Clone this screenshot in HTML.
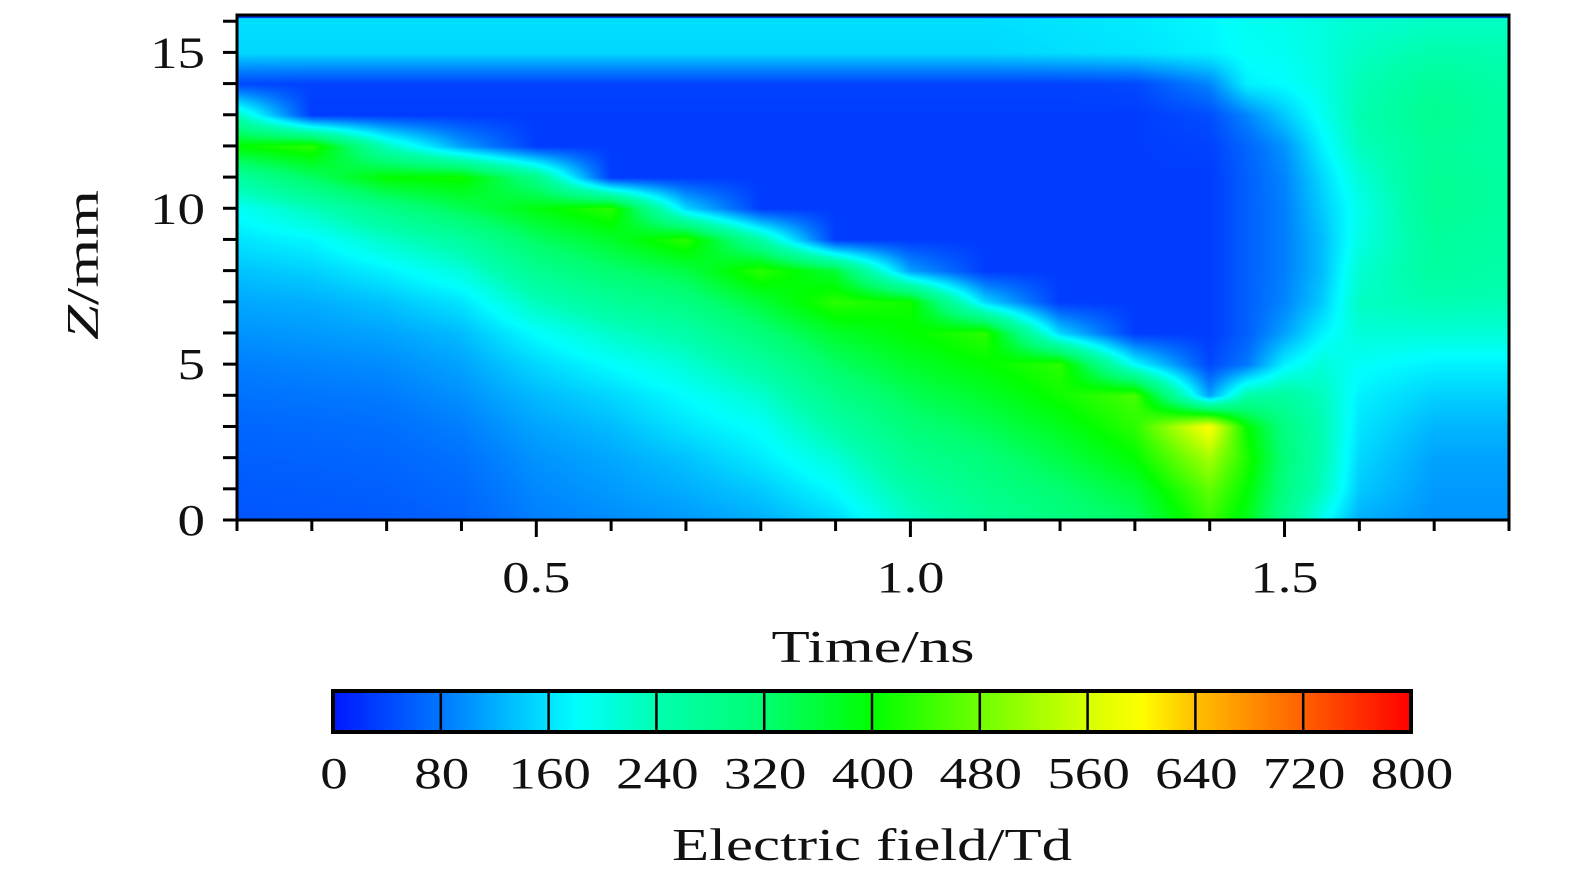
<!DOCTYPE html>
<html><head><meta charset="utf-8">
<style>
html,body{margin:0;padding:0;background:#fff;}
#root{position:relative;width:1575px;height:886px;overflow:hidden;font-family:"Liberation Serif",serif;}
svg text{font-family:"Liberation Serif",serif;fill:#111;}
</style></head>
<body>
<div id="root">
<canvas id="heat" width="1272" height="505" style="position:absolute;left:237px;top:15px;"></canvas>
<canvas id="cbar" width="1078" height="41" style="position:absolute;left:333px;top:691px;"></canvas>
<svg id="ov" width="1575" height="886" style="position:absolute;left:0;top:0;"></svg>
</div>
<script>
// ---- data ----
const times = [0.1,0.2,0.3,0.4,0.5,0.6,0.7,0.8,0.9,1.0,1.1,1.2,1.3,1.4,1.45,1.5,1.55,1.6,1.7,1.8];
const zLevels = [0,1,2,3,4,5,6,7,8,9,10,11,12,13,14,15,16];
// field values (Td) at each time, for z = 0..16
const fieldT010 = [50,55,60,65,75,85,100,115,135,160,185,260,400,230,40,150,155];
const fieldT020 = [52,57,62,68,78,90,105,120,145,175,230,330,430,30,35,150,155];
const fieldT030 = [55,60,65,72,82,95,112,135,170,220,290,400,230,30,35,150,155];
const fieldT040 = [62,68,75,85,98,112,130,160,205,260,340,410,110,30,35,150,155];
const fieldT050 = [85,92,100,112,128,150,180,230,280,330,390,290,30,30,35,150,155];
const fieldT060 = [95,105,115,130,150,180,220,270,320,370,430,30,30,30,35,150,155];
const fieldT070 = [105,120,135,160,180,210,250,300,350,430,150,30,30,30,35,150,155];
const fieldT080 = [120,140,165,185,215,260,310,360,430,252,30,30,30,30,35,150,155];
const fieldT090 = [150,180,210,250,290,330,370,430,363,30,30,30,30,30,35,150,155];
const fieldT100 = [220,250,280,310,340,370,400,410,110,30,30,30,30,30,35,150,155];
const fieldT110 = [270,290,310,340,370,400,430,150,30,30,30,30,30,30,35,150,155];
const fieldT120 = [300,320,350,380,410,430,150,30,30,30,30,30,30,30,35,155,160];
const fieldT130 = [330,360,400,430,450,180,30,30,30,30,30,30,30,30,40,160,165];
const fieldT140 = [440,470,520,600,110,40,30,30,30,30,30,30,35,45,90,170,175];
const fieldT145 = [380,400,420,400,250,80,60,60,60,60,60,60,65,90,170,185,190];
const fieldT150 = [280,300,310,300,260,170,110,90,85,85,85,90,100,140,180,190,195];
const fieldT155 = [190,230,240,240,230,210,170,140,130,130,140,150,170,190,200,205,205];
const fieldT160 = [120,140,150,160,170,185,210,225,215,200,195,210,230,240,235,225,215];
const fieldT170 = [100,105,112,125,145,170,210,240,260,265,275,275,270,280,270,245,225];
const fieldT180 = [100,105,112,125,145,170,210,235,250,255,260,260,255,255,250,240,225];
const fieldColumns = [fieldT010,fieldT020,fieldT030,fieldT040,fieldT050,fieldT060,fieldT070,fieldT080,fieldT090,fieldT100,fieldT110,fieldT120,fieldT130,fieldT140,fieldT145,fieldT150,fieldT155,fieldT160,fieldT170,fieldT180];
const xTickLabels = ["0.5","1.0","1.5"];
const xTickValues = [0.5,1.0,1.5];
const yTickValues = [0,5,10,15];
const cbarTickValues = [0,80,160,240,320,400,480,560,640,720,800];

// ---- scales ----
const X0=237,X1=1509,Y0=520,YTOP=15;
const tMin=0.1,tMax=1.8,zMin=0,zMax=16.2;
const xs=t=>X0+(t-tMin)/(tMax-tMin)*(X1-X0);
const ys=z=>Y0-(z-zMin)/(zMax-zMin)*(Y0-YTOP);
const stops=[[0,[0,24,255]],[80,[0,120,255]],[150,[0,216,255]],[180,[0,255,255]],[240,[0,255,176]],[320,[0,255,112]],[400,[0,255,0]],[480,[112,255,0]],[560,[216,255,0]],[600,[255,255,0]],[640,[255,192,0]],[720,[255,96,0]],[800,[255,0,0]]];
function cmap(v){
  if(v<=0)return stops[0][1];
  for(let i=1;i<stops.length;i++){if(v<=stops[i][0]){const a=stops[i-1],b=stops[i],f=(v-a[0])/(b[0]-a[0]);return [0,1,2].map(k=>a[1][k]+(b[1][k]-a[1][k])*f);}}
  return stops[stops.length-1][1];
}
function idx(arr,v){let i=0;while(i<arr.length-2&&v>arr[i+1])i++;const f=Math.max(0,Math.min(1,(v-arr[i])/(arr[i+1]-arr[i])));return [i,f];}
function field(t,z){
  const [i,fx]=idx(times,t),[j,fy]=idx(zLevels,z);
  const a=fieldColumns[i],b=fieldColumns[i+1];
  const v0=a[j]*(1-fy)+a[j+1]*fy,v1=b[j]*(1-fy)+b[j+1]*fy;
  return v0*(1-fx)+v1*fx;
}
const hc=document.getElementById('heat'),hx=hc.getContext('2d');
const W=hc.width,H=hc.height,img=hx.createImageData(W,H);
for(let py=0;py<H;py++){
  const z=zMin+(Y0-(py+YTOP))/(Y0-YTOP)*(zMax-zMin);
  for(let px=0;px<W;px++){
    const t=tMin+(px+0.5)/(X1-X0)*(tMax-tMin);
    const c=cmap(field(t,z));const o=(py*W+px)*4;
    img.data[o]=c[0];img.data[o+1]=c[1];img.data[o+2]=c[2];img.data[o+3]=255;
  }
}
hx.putImageData(img,0,0);
hx.fillStyle='rgb(0,40,230)';hx.fillRect(0,0,W,3);
const cc=document.getElementById('cbar'),cx=cc.getContext('2d');
for(let px=0;px<cc.width;px++){const c=cmap(px/cc.width*800);cx.fillStyle=`rgb(${c[0]|0},${c[1]|0},${c[2]|0})`;cx.fillRect(px,0,1,cc.height);}

const NS='http://www.w3.org/2000/svg',ov=document.getElementById('ov');
function mk(tag,attrs,txt){const e=document.createElementNS(NS,tag);for(const k in attrs)e.setAttribute(k,attrs[k]);if(txt!==undefined)e.textContent=txt;ov.appendChild(e);return e;}
function numLen(s){let w=0;for(const ch of s)w+=(ch==='.'?13:27.5);return w;}
let e;
e=mk('rect',{x:X0,y:YTOP,width:X1-X0,height:Y0-YTOP,fill:'none',stroke:'#000','stroke-width':3});


for(let t=1;t<=18;t++){
  const tv=t/10;const major=xTickValues.some(v=>Math.abs(v-tv)<1e-6);
  e=mk('line',{x1:xs(tv),x2:xs(tv),y1:Y0,y2:Y0+(major?17:11),stroke:'#000','stroke-width':3});
  
  
}
xTickValues.forEach((v,i)=>{
  e=mk('text',{x:xs(v),y:592,'font-size':44,'text-anchor':'middle',textLength:numLen(xTickLabels[i]),lengthAdjust:'spacingAndGlyphs'},xTickLabels[i]);
  
  
});
for(let z=0;z<=16;z++){
  e=mk('line',{x1:X0-14,x2:X0,y1:ys(z),y2:ys(z),stroke:'#000','stroke-width':3});
  
  
}
yTickValues.forEach(v=>{
  const s=String(v);
  e=mk('text',{x:205,y:ys(v)+15,'font-size':44,'text-anchor':'end',textLength:numLen(s),lengthAdjust:'spacingAndGlyphs'},s);
  
  
});
e=mk('text',{x:873,y:662,'font-size':46,'text-anchor':'middle',textLength:203,lengthAdjust:'spacingAndGlyphs'},'Time/ns');


e=mk('text',{x:0,y:0,'font-size':46,'text-anchor':'middle',textLength:150,lengthAdjust:'spacingAndGlyphs',transform:'translate(98,265) rotate(-90)'});


const ts=document.createElementNS(NS,'tspan');ts.setAttribute('font-style','italic');ts.textContent='Z';e.appendChild(ts);
e.appendChild(document.createTextNode('/mm'));
const CB0=333,CB1=1411;
e=mk('rect',{x:CB0,y:691,width:CB1-CB0,height:41,fill:'none',stroke:'#000','stroke-width':4});


cbarTickValues.forEach(v=>{
  const x=CB0+v/800*(CB1-CB0);const s=String(v);
  e=mk('line',{x1:x,x2:x,y1:691,y2:732,stroke:'#000','stroke-width':2.5});
  
  
  e=mk('text',{x:x+1,y:788,'font-size':44,'text-anchor':'middle',textLength:numLen(s),lengthAdjust:'spacingAndGlyphs'},s);
  
  
});
e=mk('text',{x:872,y:860,'font-size':46,'text-anchor':'middle',textLength:400,lengthAdjust:'spacingAndGlyphs'},'Electric field/Td');


</script>
</body></html>
